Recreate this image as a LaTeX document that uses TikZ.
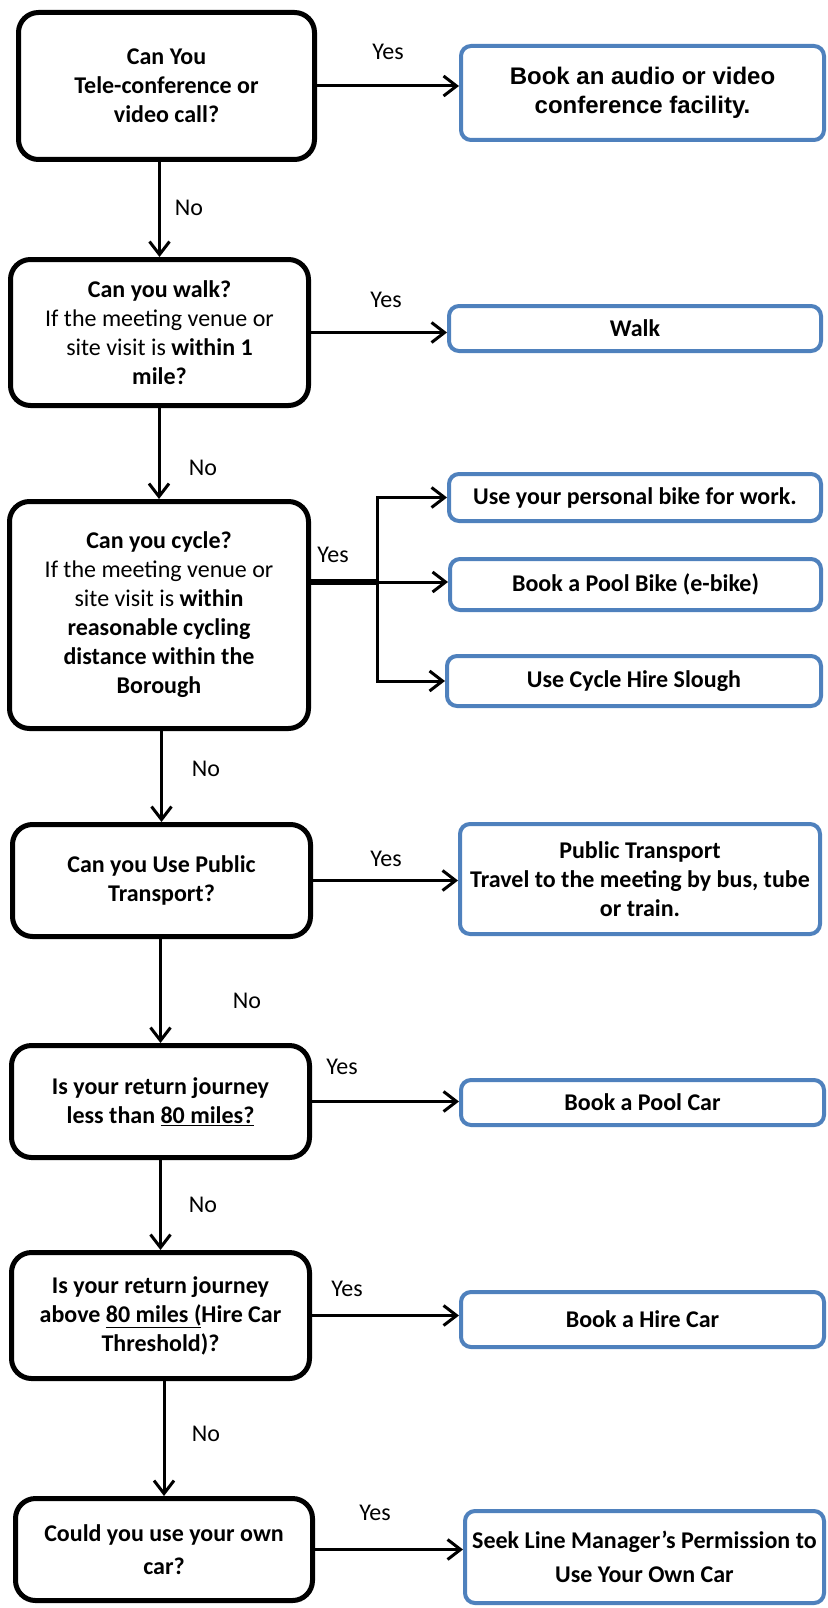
\documentclass[tikz,border=0pt]{standalone}
\usepackage{fontspec}
\setmainfont{Carlito}
\newfontfamily\arialfont{Liberation Sans}
\usetikzlibrary{arrows.meta}
\definecolor{boxblue}{HTML}{4F81BD}

\begin{document}
\begin{tikzpicture}[x=1pt,y=-1pt,->,>={Straight Barb[length=13pt,width=20pt]},line width=3pt,
        font=\fontsize{24}{29}\selectfont,
        question/.style={draw=black,line width=5pt,rounded corners=20pt,align=center,inner sep=0pt,font=\fontsize{24}{29}\selectfont\bfseries},
        answer/.style={draw=boxblue,line width=4pt,rounded corners=10pt,align=center,inner sep=0pt,font=\fontsize{24}{29}\selectfont\bfseries},
        yesno/.style={inner sep=0pt}]
                \useasboundingbox (0,0) rectangle (827,1608);
                % questions
                \node[question,minimum width=296pt,minimum height=147pt] (tele) at (166.5,86) {Can You\\Tele-conference or\\video call?};
                \node[question,minimum width=298pt,minimum height=146pt] (walkq) at (159.5,332.5) {Can you walk?\\\textmd{If the meeting venue or}\\\textmd{site visit is} within 1\\mile?};
                \node[question,minimum width=299pt,minimum height=227pt] (cycleq) at (159,615) {Can you cycle?\\\textmd{If the meeting venue or}\\\textmd{site visit is} within\\reasonable cycling\\distance within the\\Borough};
                \node[question,minimum width=298pt,minimum height=112pt] (publicq) at (161.5,880.5) {Can you Use Public\\Transport?};
                \node[question,minimum width=298pt,minimum height=112pt] (lessq) at (160.5,1101.5) {Is your return journey\\less than \underline{80 miles?}};
                \node[question,minimum width=298pt,minimum height=126pt] (aboveq) at (160.5,1315.5) {Is your return journey\\above \underline{80 miles (}Hire Car\\Threshold)?};
                \node[question,minimum width=297pt,minimum height=102pt,font=\fontsize{24}{33}\selectfont\bfseries] (ownq) at (164,1549.5) {Could you use your own\\car?};
                % answers
                \node[answer,minimum width=363pt,minimum height=94pt,font=\arialfont\fontsize{24}{29}\selectfont\bfseries] (audio) at (642.5,93) {Book an audio or video\\conference facility.};
                \node[answer,minimum width=372pt,minimum height=45pt] (walk) at (635,328.5) {Walk};
                \node[answer,minimum width=372pt,minimum height=47pt] (ownbike) at (635,497.5) {Use your personal bike for work.};
                \node[answer,minimum width=371pt,minimum height=51pt] (poolbike) at (635.5,584.5) {Book a Pool Bike (e-bike)};
                \node[answer,minimum width=374pt,minimum height=50pt] (cyclehire) at (634,681) {Use Cycle Hire Slough};
                \node[answer,minimum width=360pt,minimum height=110pt] (public) at (640,879) {Public Transport\\Travel to the meeting by bus, tube\\or train.};
                \node[answer,minimum width=363pt,minimum height=45pt] (poolcar) at (642.5,1102.5) {Book a Pool Car};
                \node[answer,minimum width=363pt,minimum height=55pt] (hirecar) at (642.5,1319.5) {Book a Hire Car};
                \node[answer,minimum width=359pt,minimum height=92pt,font=\fontsize{24}{34}\selectfont\bfseries] (seek) at (644.5,1557) {Seek Line Manager’s Permission to\\Use Your Own Car};
                % yes / no
                \node[yesno] (yes1) at (388,52) {Yes};
                \node[yesno] (no1) at (189,208) {No};
                \node[yesno] (yes2) at (386,300) {Yes};
                \node[yesno] (no2) at (203,468) {No};
                \node[yesno] (yes3) at (333,555) {Yes};
                \node[yesno] (no3) at (206,769) {No};
                \node[yesno] (yes4) at (386,859) {Yes};
                \node[yesno] (no4) at (247,1001) {No};
                \node[yesno] (yes5) at (342,1067) {Yes};
                \node[yesno] (no5) at (203,1205) {No};
                \node[yesno] (yes6) at (347,1289) {Yes};
                \node[yesno] (no6) at (206,1434) {No};
                \node[yesno] (yes7) at (375,1513) {Yes};
                % arrows
                \draw (tele.east) -- (tele.east -| audio.west);
                \draw (walkq.east) -- (walkq.east -| walk.west);
                \draw (publicq.east) -- (publicq.east -| public.west);
                \draw (lessq.east) -- (lessq.east -| poolcar.west);
                \draw (aboveq.east) -- (aboveq.east -| hirecar.west);
                \draw (ownq.east) -- (ownq.east -| seek.west);
                \draw (tele.south -| walkq.north) -- (walkq.north);
                \draw (walkq.south -| cycleq.north) -- (cycleq.north);
                \draw (cycleq.south -| publicq.north) -- (publicq.north);
                \draw (publicq.south -| lessq.north) -- (lessq.north);
                \draw (lessq.south -| aboveq.north) -- (aboveq.north);
                \draw (aboveq.south -| ownq.north) -- (ownq.north);
                % cycling fork
                \coordinate (fork) at (377,582);
                \draw[-,line width=5.5pt] (cycleq.east |- fork) -- (fork);
                \draw (fork) |- (ownbike.west);
                \draw (fork) -- (fork -| poolbike.west);
                \draw (fork) |- (cyclehire.west);
\end{tikzpicture}
\end{document}
